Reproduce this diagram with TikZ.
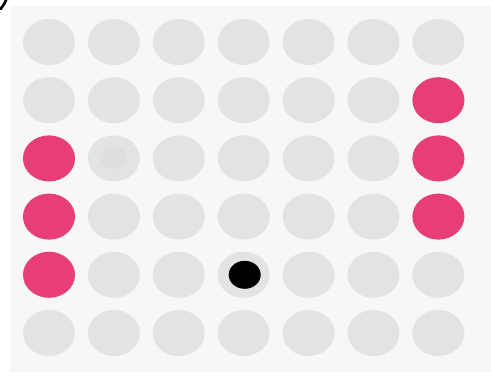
\documentclass[tikz,border=0pt]{standalone}
\begin{document}
\begin{tikzpicture}[x=1pt,y=-1pt,
  slot/.style={fill=slotgray,draw=none},
  piece/.style={fill=pinkpiece,draw=none}]
\definecolor{bggray}{HTML}{F7F7F7}
\definecolor{slotgray}{HTML}{E3E3E3}
\definecolor{innergray}{HTML}{DEDEDE}
\definecolor{pinkpiece}{HTML}{E83E78}
\useasboundingbox (0,0) rectangle (491,381);
\fill[bggray] (10,6) rectangle (491,372);
\draw[line width=2.6pt,line cap=round] (6.5,-1) to[bend left=8] (0.5,9);
\foreach \c in {1,...,7}{
  \foreach \r in {1,...,6}{
    \path[slot] ({49+64.9*(\c-1)},{42+58.2*(\r-1)}) ellipse [x radius=26, y radius=23];
  }
}
\foreach \c/\r in {7/2,1/3,7/3,1/4,7/4,1/5}{
  \path[piece] ({49+64.9*(\c-1)},{42+58.2*(\r-1)}) ellipse [x radius=26, y radius=23];
}
\path[fill=innergray] (113.9,158) ellipse [x radius=13.5, y radius=11];
\path[fill=black] (244.7,274.8) ellipse [x radius=16, y radius=14];
\end{tikzpicture}
\end{document}
